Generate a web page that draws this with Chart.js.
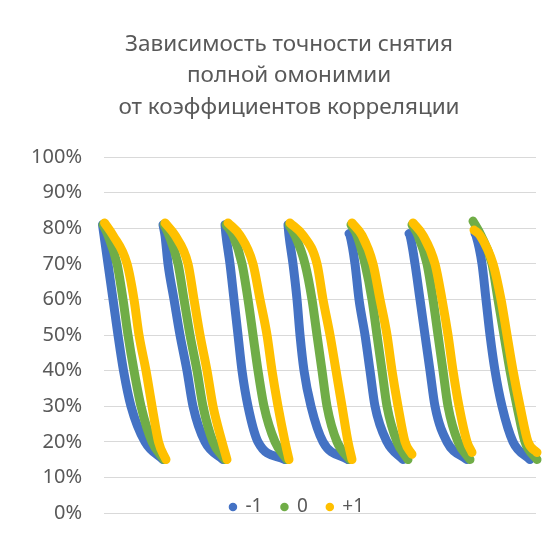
<!DOCTYPE html>
<html lang="ru">
<head>
<meta charset="utf-8">
<title>Зависимость точности снятия полной омонимии</title>
<script src="https://cdn.jsdelivr.net/npm/chart.js@4.4.1/dist/chart.umd.min.js"></script>
<style>
  html, body { margin: 0; padding: 0; background: #fff; }
  #wrap { width: 560px; height: 537px; }
</style>
</head>
<body>
<div id="wrap"><canvas id="chart"></canvas></div>
<script>
// series = correlation coefficient
const seriesLabels = ["-1", "0", "+1"];
const yTickLabels = ["0%", "10%", "20%", "30%", "40%", "50%", "60%", "70%", "80%", "90%", "100%"];

const midLevels = [78, 70, 60, 50, 40, 30, 20];

// 7 curve groups per series: top value, x at top / mid levels / end, end value
const blueTop = [81, 81, 81, 81, 78.5, 78.5, 78.5];
const blueEnd = [15, 15, 15, 15, 15, 15, 15];
const blueX = [
  [-0.3, 0, 0.8, 1.8, 2.8, 3.9, 5.4, 8.2, 11.8],
  [11.8, 12.2, 12.8, 14, 15.2, 16.6, 17.8, 20.2, 23.8],
  [24.2, 24.4, 25.2, 26, 26.8, 27.6, 28.8, 30.8, 36.2],
  [36.8, 37, 37.8, 38.6, 39.2, 40, 41.4, 43.8, 48.8],
  [49, 49.2, 50.2, 51, 52.2, 53.2, 54.2, 56.6, 59.8],
  [61, 61.2, 62.2, 63.2, 64.2, 65.2, 66.2, 68.6, 72.6],
  [74.2, 74.4, 75.6, 76.4, 77.2, 78.2, 79.6, 81.8, 85.2]
];

const greenTop = [81, 81, 81, 81, 81, 81, 82];
const greenEnd = [15, 15, 15, 15, 15, 15, 15];
const greenX = [
  [-0.2, 0.8, 2.6, 3.8, 4.8, 6, 7.4, 9.6, 12],
  [12, 13, 14.8, 16, 17.2, 18.6, 19.8, 21.8, 24.2],
  [24.4, 25.8, 27.6, 28.8, 29.8, 30.8, 32, 34.2, 36.6],
  [37, 38.2, 40.2, 41.6, 42.6, 43.6, 44.6, 46.6, 49.2],
  [49.4, 50.6, 52.2, 53.6, 54.6, 55.6, 56.6, 58.6, 60.8],
  [61.6, 62.8, 64.6, 65.8, 66.8, 67.8, 68.8, 70.8, 73.2],
  [73.8, 75.4, 77.6, 78.8, 80, 81.2, 82.6, 84.2, 86.6]
];

const yellowTop = [81.5, 81.5, 81.5, 81.5, 81.5, 81.5, 79.5];
const yellowEnd = [15, 15, 15, 15, 16.5, 17, 17];
const yellowX = [
  [0.1, 1.8, 4.6, 6, 7, 8.4, 9.6, 10.9, 12.4],
  [12.2, 14.2, 16.8, 18, 19.2, 20.6, 21.8, 23.6, 24.6],
  [24.8, 27.2, 29.8, 31.2, 32.6, 33.6, 34.8, 36.2, 37],
  [37.2, 39.8, 42.6, 43.8, 45.2, 46.4, 47.6, 48.8, 49.6],
  [49.6, 51.6, 53.8, 55.2, 56.6, 57.6, 58.8, 60.2, 61.6],
  [61.8, 63.8, 66.2, 67.6, 68.8, 69.8, 71, 72.6, 73.6],
  [74, 75.2, 77.8, 79.4, 80.6, 81.8, 83.2, 84.8, 86.6]
];

const FONT = "'Noto Sans', 'Open Sans', sans-serif";
const TEXT = "#595959";

// one dataset per series, groups separated by a null point so the line breaks
function buildPoints(xs, tops, ends) {
  const pts = [];
  xs.forEach((row, g) => {
    const ys = [tops[g], ...midLevels, ends[g]];
    row.forEach((x, i) => pts.push({ x: x, y: ys[i] }));
    pts.push({ x: row[row.length - 1], y: null });
  });
  return pts;
}

const lineStyle = {
  showLine: true,
  borderWidth: 9,
  pointRadius: 0,
  pointHoverRadius: 0,
  borderCapStyle: "round",
  borderJoinStyle: "round",
  cubicInterpolationMode: "monotone",
  spanGaps: false,
  clip: false
};

// legend takes only a thin strip and sits over the bottom of the plot like in Excel;
// title and legend are centred on the same span as in the original
const excelLayout = {
  id: "excelLayout",
  beforeLayout(chart) {
    const lg = chart.legend;
    if (lg && !lg._thin) {
      const fit = lg.fit;
      lg.fit = function () { fit.call(this); this.height = 24; };
      lg._thin = true;
    }
  },
  afterLayout(chart) {
    const lg = chart.legend;
    lg.top = chart.chartArea.bottom - 34.5;
    lg.height = 50;
    lg.bottom = lg.top + lg.height;
    const spans = [[lg, 50, 544], [chart.titleBlock, 42, 536]];
    for (const [box, l, r] of spans) {
      box.left = l;
      box.right = r;
      box.width = r - l;
    }
  }
};

new Chart(document.getElementById("chart"), {
  type: "scatter",
  data: {
    datasets: [
      { label: seriesLabels[0], data: buildPoints(blueX, blueTop, blueEnd), borderColor: "#4472C4", backgroundColor: "#4472C4", order: 3, ...lineStyle },
      { label: seriesLabels[1], data: buildPoints(greenX, greenTop, greenEnd), borderColor: "#70AD47", backgroundColor: "#70AD47", order: 2, ...lineStyle },
      { label: seriesLabels[2], data: buildPoints(yellowX, yellowTop, yellowEnd), borderColor: "#FFC000", backgroundColor: "#FFC000", order: 1, ...lineStyle }
    ]
  },
  options: {
    responsive: true,
    maintainAspectRatio: false,
    animation: false,
    events: [],
    layout: { padding: { left: 28, right: 24, top: 0, bottom: 0 } },
    scales: {
      x: { type: "linear", display: false, min: 0, max: 86.4 },
      y: {
        min: 0,
        max: 100,
        afterFit: s => { s.width = 76; s.paddingBottom = 0; },
        border: { display: false },
        grid: { color: "#d9d9d9", drawTicks: false },
        ticks: {
          stepSize: 10,
          padding: 22,
          color: TEXT,
          font: { family: FONT, size: 20 },
          callback: (v, i) => yTickLabels[i]
        }
      }
    },
    plugins: {
      title: {
        display: true,
        text: ["Зависимость точности снятия", "полной омонимии", "от коэффициентов корреляции"],
        color: TEXT,
        font: { family: FONT, size: 22.5, weight: "normal", lineHeight: 1.38 },
        padding: { top: 29.5, bottom: 34.4 }
      },
      legend: {
        position: "bottom",
        labels: {
          usePointStyle: true,
          boxWidth: 6,
          boxHeight: 6,
          padding: 19,
          color: TEXT,
          font: { family: FONT, size: 19 },
          generateLabels: chart => chart.data.datasets.map((ds, i) => ({
            text: ds.label,
            fillStyle: ds.borderColor,
            strokeStyle: ds.borderColor,
            lineWidth: 0,
            pointStyle: "circle",
            fontColor: TEXT,
            hidden: false,
            datasetIndex: i
          }))
        }
      },
      tooltip: { enabled: false }
    }
  },
  plugins: [excelLayout]
});
</script>
</body>
</html>
